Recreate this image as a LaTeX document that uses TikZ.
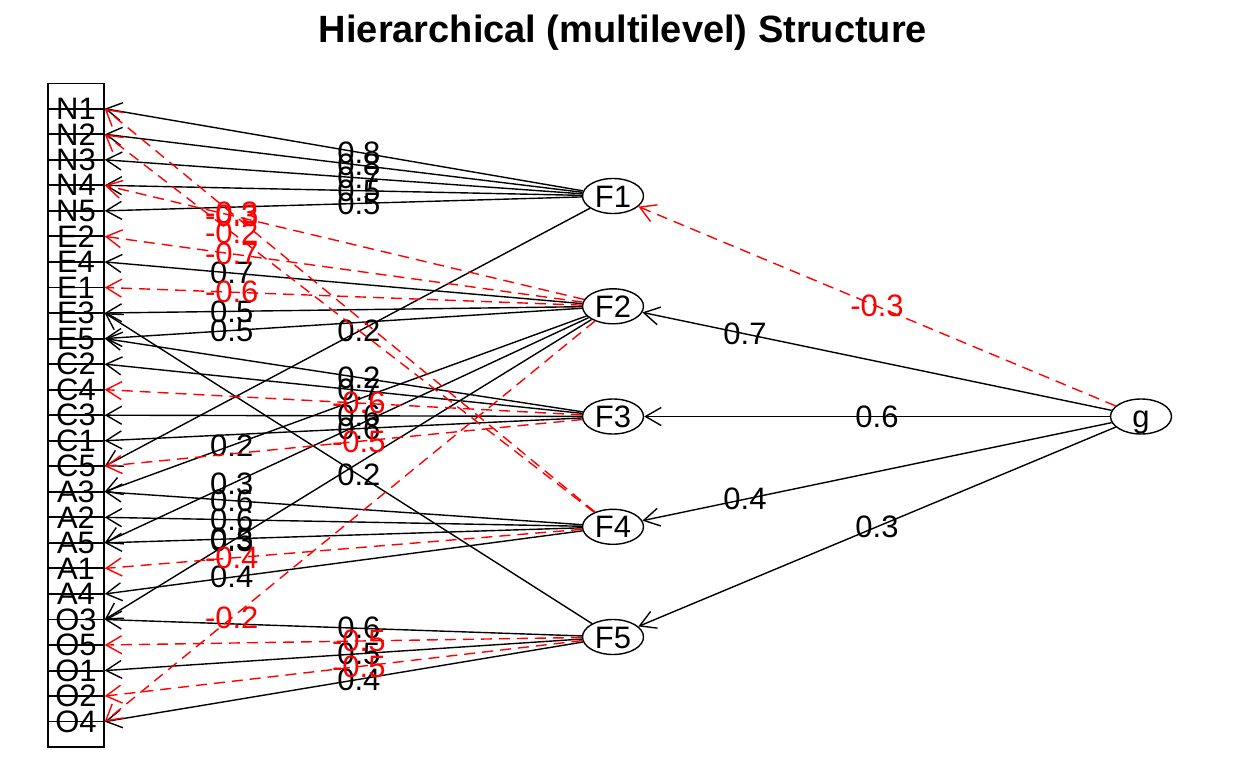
\documentclass[tikz,border=0pt]{standalone}
\usepackage{fontspec}
\setmainfont{Liberation Sans}
\usetikzlibrary{arrows.meta,shapes.geometric}
\newcommand{\labfont}{\fontsize{31}{37}\selectfont}
\begin{document}
\begin{tikzpicture}[x=1pt,y=-1pt,line width=1.4pt,
  >={Straight Barb[angle=60:18pt]},
  var/.style={draw,rectangle,minimum width=56pt,minimum height=50.6pt,inner sep=0pt,font=\labfont},
  fac/.style={draw,ellipse,minimum width=61pt,minimum height=35pt,inner sep=0pt,font=\labfont,text height=22pt,text depth=0pt},
  posload/.style={->,black},
  negload/.style={->,red,dash pattern=on 11pt off 7pt},
  lbl/.style={font=\labfont,inner sep=0pt},
  neglbl/.style={lbl,text=red}]
\useasboundingbox (0,0) rectangle (1248,768);
\node[font=\bfseries\fontsize{38}{45}\selectfont,anchor=base] (title) at (623,42.5) {Hierarchical (multilevel) Structure};
% observed variables
\foreach \v [count=\i from 0] in {N1,N2,N3,N4,N5,E2,E4,E1,E3,E5,C2,C4,C3,C1,C5,A3,A2,A5,A1,A4,O3,O5,O1,O2,O4}
  \node[var] (\v) at (76,108.7+25.54*\i) {\v};
% factors
\foreach \f/\y in {F1/196,F2/306.3,F3/416.5,F4/526.8,F5/637}
  \node[fac] (\f) at (613,\y) {\f};
\node[fac] (g) at (1141,416.5) {g};
% loadings, positive
\foreach \f/\v/\l/\t in {F1/N1/0.8/.5,F1/N2/0.8/.5,F1/N3/0.7/.5,F1/N4/0.5/.5,F1/N5/0.5/.5,F1/C5/0.2/.5,
    F2/E4/0.7/.75,F2/E3/0.5/.75,F2/E5/0.5/.75,F2/A3/0.2/.75,F2/A5/0.3/.75,F2/O3/0.3/.75,
    F3/C2/0.7/.5,F3/C3/0.6/.5,F3/C1/0.6/.5,F3/E5/0.2/.5,
    F4/A3/0.6/.75,F4/A2/0.6/.75,F4/A5/0.5/.75,F4/A4/0.4/.75,
    F5/O3/0.6/.5,F5/O1/0.5/.5,F5/O4/0.4/.5,F5/E3/0.2/.5} {
  \draw[posload] (\f) -- (\v.east);
  \path (\f.center) -- (\v.east) node[lbl,pos=\t] (l-\f-\v) {\l};
}
% loadings, negative
\foreach \f/\v/\l/\t in {F2/E2/-0.7/.75,F2/E1/-0.6/.75,F2/N4/-0.3/.75,F2/O4/-0.2/.75,
    F3/C4/-0.6/.5,F3/C5/-0.5/.5,
    F4/A1/-0.4/.75,F4/N1/-0.3/.75,F4/N2/-0.2/.75,
    F5/O5/-0.5/.5,F5/O2/-0.5/.5} {
  \draw[negload] (\f) -- (\v.east);
  \path (\f.center) -- (\v.east) node[neglbl,pos=\t] (l-\f-\v) {\l};
}
% general factor
\draw[negload] (g) -- (F1);
\path (g.center) -- (F1.center) node[neglbl,pos=.5] (l-g-F1) {-0.3};
\foreach \f/\l/\t in {F2/0.7/.75,F3/0.6/.5,F4/0.4/.75,F5/0.3/.5} {
  \draw[posload] (g) -- (\f);
  \path (g.center) -- (\f.center) node[lbl,pos=\t] (l-g-\f) {\l};
}
\end{tikzpicture}
\end{document}
